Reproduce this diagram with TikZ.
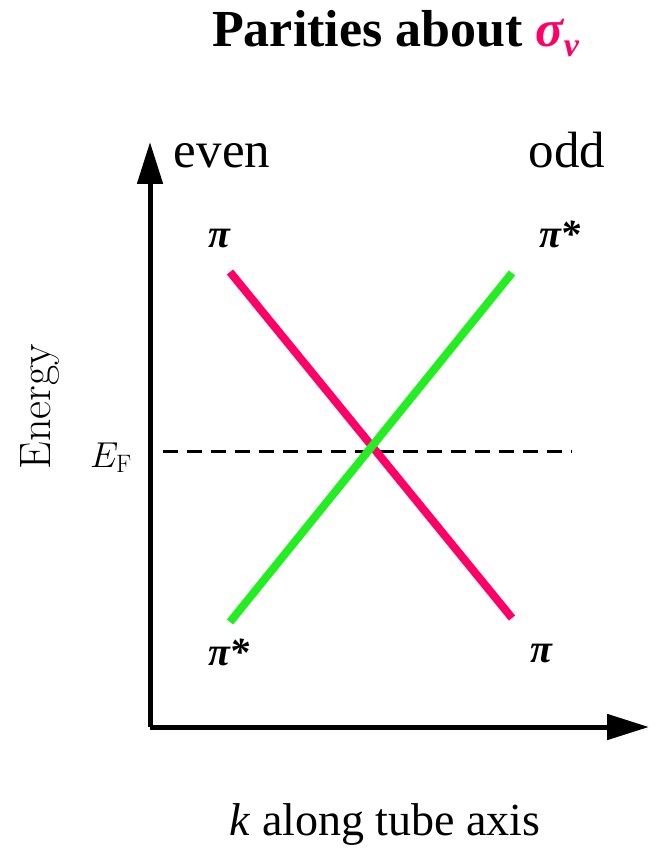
\documentclass[tikz,border=0pt]{standalone}
\usepackage{fix-cm}
\usepackage{amsmath}
\usepackage{fontspec}
\newfontfamily\tms{Liberation Serif}
\usetikzlibrary{arrows.meta}
\definecolor{pinkred}{RGB}{255,0,102}
\definecolor{brightgreen}{RGB}{34,238,34}
\begin{document}
\begin{tikzpicture}[x=1pt,y=-1pt,
  axisline/.style={line width=5pt,-{Triangle[length=42pt,width=25pt]}},
  band/.style={line width=8pt},
  lbl/.style={font=\tms\fontsize{40}{44}\selectfont\bfseries\itshape, inner sep=0pt},
  parity/.style={font=\tms\fontsize{51}{56}\selectfont, inner sep=0pt}]
\useasboundingbox (0,0) rectangle (656,850);
\coordinate (O) at (150,727);
\coordinate (ytip) at (150,142);
\coordinate (xtip) at (649,727);
\draw[axisline] (O) -- (ytip);
\draw[axisline] (O) -- (xtip);
\coordinate (ef1) at (163,451);
\coordinate (ef2) at (572,451);
\draw[line width=3pt, dash pattern=on 15pt off 9pt] (ef1) -- (ef2);
\coordinate (r1) at (230,272);
\coordinate (r2) at (512,618);
\coordinate (g1) at (230,622);
\coordinate (g2) at (512,273);
\draw[band, pinkred] (r1) -- (r2);
\draw[band, brightgreen] (g1) -- (g2);
\node[font=\tms\fontsize{52}{58}\selectfont\bfseries, anchor=base west, inner sep=0pt] (title) at (212,47) {Parities about {\color{pinkred}\itshape σ\raisebox{-10pt}{\fontsize{34}{40}\selectfont v}}};
\node[parity, anchor=base] (even) at (222,168) {even};
\node[parity, anchor=base] (odd) at (567,168) {odd};
\node[lbl, anchor=base] (p1) at (219,247) {π};
\node[lbl, anchor=base] (p2) at (560,247) {π*};
\node[lbl, anchor=base] (p3) at (229,665) {π*};
\node[lbl, anchor=base] (p4) at (541,662) {π};
\node[rotate=90, anchor=base, font=\fontsize{44}{48}\selectfont, inner sep=0pt] (energy) at (50,407) {Energy};
\node[anchor=base east, inner sep=0pt] (ef) at (132,467) {\fontsize{36}{40}\selectfont$E_{\mathrm{F}}$};
\node[anchor=base, font=\tms\fontsize{46}{50}\selectfont, inner sep=0pt] (k) at (385,835) {\textit{k} along tube axis};
\end{tikzpicture}
\end{document}
